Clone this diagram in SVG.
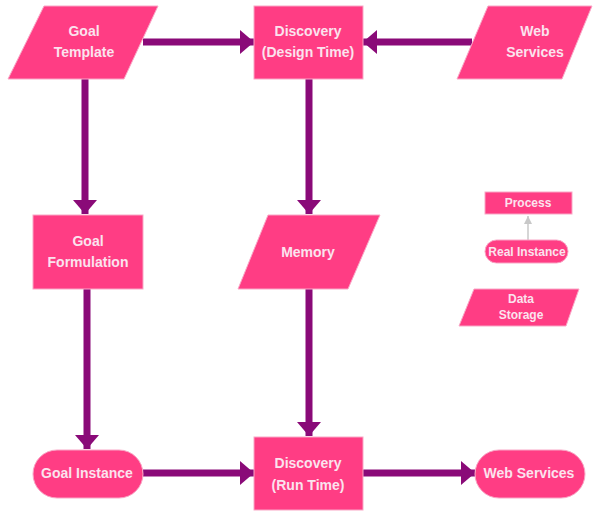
<svg xmlns="http://www.w3.org/2000/svg" width="593" height="512" viewBox="0 0 593 512">
<defs>
<style>
.n{fill:#FF3D84;stroke:#F9A7C6;stroke-width:1}
.t{font-family:"Liberation Sans",Arial,sans-serif;font-weight:bold;font-size:14px;fill:#FBE3EE;text-anchor:middle}
.s{font-size:12px}
.c{stroke:#8A0A78;stroke-width:7;fill:none;marker-end:url(#ah)}
.g{stroke:#C8C8C8;stroke-width:1.5;fill:none;marker-end:url(#gh)}
</style>
<marker id="ah" viewBox="0 0 14 24" refX="14" refY="12" markerWidth="14" markerHeight="24" markerUnits="userSpaceOnUse" orient="auto">
<path d="M0,0 L14,12 L0,24 z" fill="#8A0A78"/>
</marker>
<marker id="gh" viewBox="0 0 8 8" refX="8" refY="4" markerWidth="8" markerHeight="8" markerUnits="userSpaceOnUse" orient="auto">
<path d="M0,0 L8,4 L0,8 z" fill="#C8C8C8"/>
</marker>
</defs>
<rect width="593" height="512" fill="#FFFFFF"/>
<g id="connectors">
<line class="c" x1="143" y1="42" x2="254" y2="42"/>
<line class="c" x1="472" y1="42" x2="363" y2="42"/>
<line class="c" x1="85" y1="79" x2="85" y2="214"/>
<line class="c" x1="309" y1="79" x2="309" y2="214"/>
<line class="c" x1="87" y1="289" x2="87" y2="449"/>
<line class="c" x1="309" y1="289" x2="309" y2="436"/>
<line class="c" x1="143" y1="473" x2="254" y2="473"/>
<line class="c" x1="363" y1="473" x2="475" y2="473"/>
<line class="g" x1="528" y1="240" x2="528" y2="216"/>
</g>
<g id="goal-template">
<polygon class="n" points="44,6 158,6 124,79 8,79"/>
<text class="t" x="84" y="36">Goal</text>
<text class="t" x="84" y="57">Template</text>
</g>
<g id="discovery-design">
<rect class="n" x="254" y="6" width="109" height="73"/>
<text class="t" x="308" y="36">Discovery</text>
<text class="t" x="308" y="57">(Design Time)</text>
</g>
<g id="web-services-top">
<polygon class="n" points="488,6 592,6 562,79 457,79"/>
<text class="t" x="535" y="36">Web</text>
<text class="t" x="535" y="57">Services</text>
</g>
<g id="goal-formulation">
<rect class="n" x="33" y="215" width="110" height="74"/>
<text class="t" x="88" y="246">Goal</text>
<text class="t" x="88" y="267">Formulation</text>
</g>
<g id="memory">
<polygon class="n" points="268,215 380,215 348,289 238,289"/>
<text class="t" x="308" y="257">Memory</text>
</g>
<g id="goal-instance">
<rect class="n" x="33" y="450" width="110" height="48" rx="24"/>
<text class="t" x="87" y="478">Goal Instance</text>
</g>
<g id="discovery-run">
<rect class="n" x="254" y="437" width="109" height="73"/>
<text class="t" x="308" y="468">Discovery</text>
<text class="t" x="308" y="490">(Run Time)</text>
</g>
<g id="web-services-bottom">
<rect class="n" x="475" y="450" width="110" height="48" rx="24"/>
<text class="t" x="529" y="478">Web Services</text>
</g>
<g id="legend-process">
<rect class="n" x="485" y="192" width="87" height="22"/>
<text class="t s" x="528" y="207">Process</text>
</g>
<g id="legend-real-instance">
<rect class="n" x="485" y="240" width="83" height="23" rx="11.5"/>
<text class="t s" x="527" y="256">Real Instance</text>
</g>
<g id="legend-data-storage">
<polygon class="n" points="474,289 579,289 566,326 459,326"/>
<text class="t s" x="521" y="303">Data</text>
<text class="t s" x="521" y="319">Storage</text>
</g>
</svg>
